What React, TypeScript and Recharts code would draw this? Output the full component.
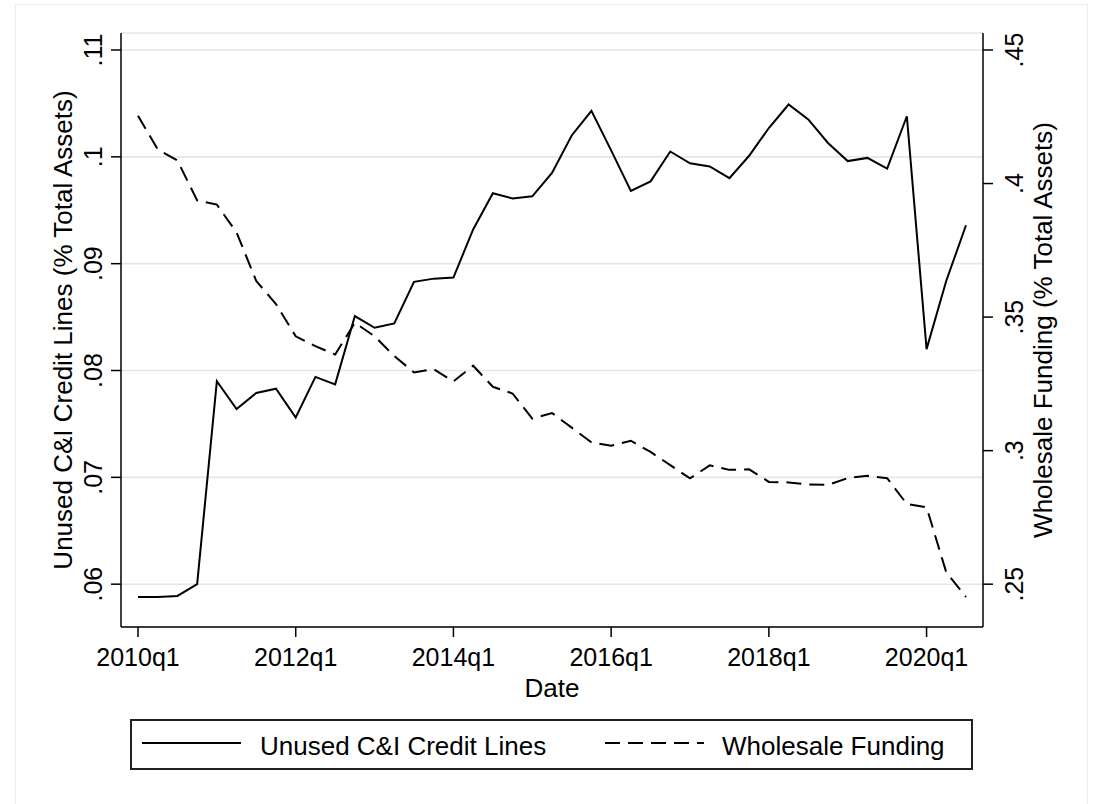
import { LineChart, Line, XAxis, YAxis, CartesianGrid, Legend } from "recharts";

const QUARTERS = [
    "2010q1", "2010q2", "2010q3", "2010q4",
    "2011q1", "2011q2", "2011q3", "2011q4",
    "2012q1", "2012q2", "2012q3", "2012q4",
    "2013q1", "2013q2", "2013q3", "2013q4",
    "2014q1", "2014q2", "2014q3", "2014q4",
    "2015q1", "2015q2", "2015q3", "2015q4",
    "2016q1", "2016q2", "2016q3", "2016q4",
    "2017q1", "2017q2", "2017q3", "2017q4",
    "2018q1", "2018q2", "2018q3", "2018q4",
    "2019q1", "2019q2", "2019q3", "2019q4",
    "2020q1", "2020q2", "2020q3",
];

// unused C&I credit lines, share of total assets (left axis)
const CREDIT_LINES = [
    0.0588, 0.0588, 0.0589, 0.0600, 0.0790, 0.0764, 0.0779, 0.0783,
    0.0756, 0.0794, 0.0787, 0.0851, 0.0840, 0.0844, 0.0883, 0.0886,
    0.0887, 0.0932, 0.0966, 0.0961, 0.0963, 0.0985, 0.1020, 0.1043,
    0.1006, 0.0968, 0.0977, 0.1005, 0.0994, 0.0991, 0.0980, 0.1001,
    0.1027, 0.1049, 0.1035, 0.1013, 0.0996, 0.0999, 0.0989, 0.1038,
    0.0820, 0.0884, 0.0936,
];

// wholesale funding, share of total assets (right axis)
const WHOLESALE = [
    0.4254, 0.4128, 0.4086, 0.3937, 0.3921, 0.3817, 0.3635, 0.3549,
    0.3428, 0.3391, 0.3360, 0.3479, 0.3428, 0.3354, 0.3293, 0.3305,
    0.3259, 0.3318, 0.3239, 0.3214, 0.3120, 0.3141, 0.3086, 0.3031,
    0.3018, 0.3037, 0.2995, 0.2946, 0.2896, 0.2945, 0.2928, 0.2930,
    0.2883, 0.2881, 0.2873, 0.2872, 0.2897, 0.2906, 0.2897, 0.2800,
    0.2788, 0.2544, 0.2452,
];

const LEFT_TICKS = [0.06, 0.07, 0.08, 0.09, 0.1, 0.11];
const RIGHT_TICKS = [0.25, 0.3, 0.35, 0.4, 0.45];

const FONT = '"Liberation Sans", Arial, Helvetica, sans-serif';

const data = QUARTERS.map((q, i) => ({
    q,
    credit: CREDIT_LINES[i],
    wholesale: WHOLESALE[i],
}));

// Stata style: drop the leading zero
const fmt = (v: number) => String(v).replace(/^0/, "");

const LeftTick = ({ x, y, payload }: any) => (
    <text x={x - 7} y={y} transform={`rotate(-90 ${x - 7} ${y})`} textAnchor="middle"
        fontFamily={FONT} fontSize={25} fill="#000">
        {fmt(payload.value)}
    </text>
);

const RightTick = ({ x, y, payload }: any) => (
    <text x={x + 28} y={y} transform={`rotate(-90 ${x + 28} ${y})`} textAnchor="middle"
        fontFamily={FONT} fontSize={25} fill="#000">
        {fmt(payload.value)}
    </text>
);

const BottomTick = ({ x, y, payload }: any) => (
    <text x={x} y={y + 27} textAnchor="middle" fontFamily={FONT} fontSize={25} fill="#000">
        {payload.value}
    </text>
);

const renderLegend = (props: any) => {
    const items = props.payload || [];
    const slots = [{ line: 12, text: 130 }, { line: 475, text: 592 }];
    return (
        <svg width={843} height={51} style={{ display: "block" }}>
            <rect x={1} y={1} width={841} height={49} fill="#fff" stroke="#222" strokeWidth={2} />
            {items.map((it: any, i: number) => (
                <g key={it.value}>
                    <line x1={slots[i].line} x2={slots[i].line + 99} y1={24} y2={24}
                        stroke="#000" strokeWidth={2}
                        strokeDasharray={it.payload?.strokeDasharray} />
                    <text x={slots[i].text} y={36} fontFamily={FONT} fontSize={26} fill="#000">
                        {it.value}
                    </text>
                </g>
            ))}
        </svg>
    );
};

export default function App() {
    return (
        <div style={{ position: "absolute", left: 0, top: 0, width: 1094, height: 804, background: "#fff" }}>
            <div style={{
                position: "absolute", left: 15, top: 4, width: 1073, height: 800,
                borderLeft: "1px solid #ececec", borderRight: "1px solid #ececec", borderTop: "1px solid #ececec",
                boxSizing: "border-box",
            }} />
            <LineChart
                width={1094}
                height={804}
                data={data}
                margin={{ top: 33, right: 51, bottom: 147, left: 61 }}
            >
                <CartesianGrid yAxisId="left" vertical={false} stroke="#e6e6e6" strokeWidth={1.6} />
                <XAxis
                    dataKey="q"
                    interval={7}
                    height={30}
                    padding={{ left: 17, right: 17 }}
                    axisLine={{ stroke: "#000", strokeWidth: 1.5 }}
                    tickLine={{ stroke: "#000", strokeWidth: 1.5 }}
                    tickSize={10}
                    tick={<BottomTick />}
                    label={({ viewBox }: any) => (
                        <text x={viewBox.x + viewBox.width / 2} y={697} textAnchor="middle"
                            fontFamily={FONT} fontSize={26} fill="#000">
                            Date
                        </text>
                    )}
                />
                <YAxis
                    yAxisId="left"
                    width={60}
                    domain={[0.06, 0.11]}
                    ticks={LEFT_TICKS}
                    padding={{ top: 17, bottom: 30 }}
                    axisLine={{ stroke: "#000", strokeWidth: 1.5 }}
                    tickLine={{ stroke: "#000", strokeWidth: 1.5 }}
                    tickSize={10}
                    tick={<LeftTick />}
                    label={({ viewBox }: any) => {
                        const cy = viewBox.y + viewBox.height / 2;
                        return (
                            <text x={72} y={cy} transform={`rotate(-90 72 ${cy})`} textAnchor="middle"
                                fontFamily={FONT} fontSize={26} fill="#000">
                                Unused C&amp;I Credit Lines (% Total Assets)
                            </text>
                        );
                    }}
                />
                <YAxis
                    yAxisId="right"
                    orientation="right"
                    width={60}
                    domain={[0.25, 0.45]}
                    ticks={RIGHT_TICKS}
                    padding={{ top: 17, bottom: 30 }}
                    axisLine={{ stroke: "#000", strokeWidth: 1.5 }}
                    tickLine={{ stroke: "#000", strokeWidth: 1.5 }}
                    tickSize={10}
                    tick={<RightTick />}
                    label={({ viewBox }: any) => {
                        const cy = viewBox.y + viewBox.height / 2;
                        return (
                            <text x={1052} y={cy} transform={`rotate(-90 1052 ${cy})`} textAnchor="middle"
                                fontFamily={FONT} fontSize={26} fill="#000">
                                Wholesale Funding (% Total Assets)
                            </text>
                        );
                    }}
                />
                <Legend
                    layout="horizontal"
                    verticalAlign="middle"
                    align="center"
                    content={renderLegend}
                    wrapperStyle={{ position: "absolute", left: 130, top: 719, width: 843, height: 51 }}
                />
                <Line
                    yAxisId="left"
                    type="linear"
                    dataKey="credit"
                    name="Unused C&I Credit Lines"
                    stroke="#000"
                    strokeWidth={2}
                    dot={false}
                    activeDot={false}
                    isAnimationActive={false}
                />
                <Line
                    yAxisId="right"
                    type="linear"
                    dataKey="wholesale"
                    name="Wholesale Funding"
                    stroke="#000"
                    strokeWidth={2}
                    strokeDasharray="15 8"
                    dot={false}
                    activeDot={false}
                    isAnimationActive={false}
                />
            </LineChart>
        </div>
    );
}
